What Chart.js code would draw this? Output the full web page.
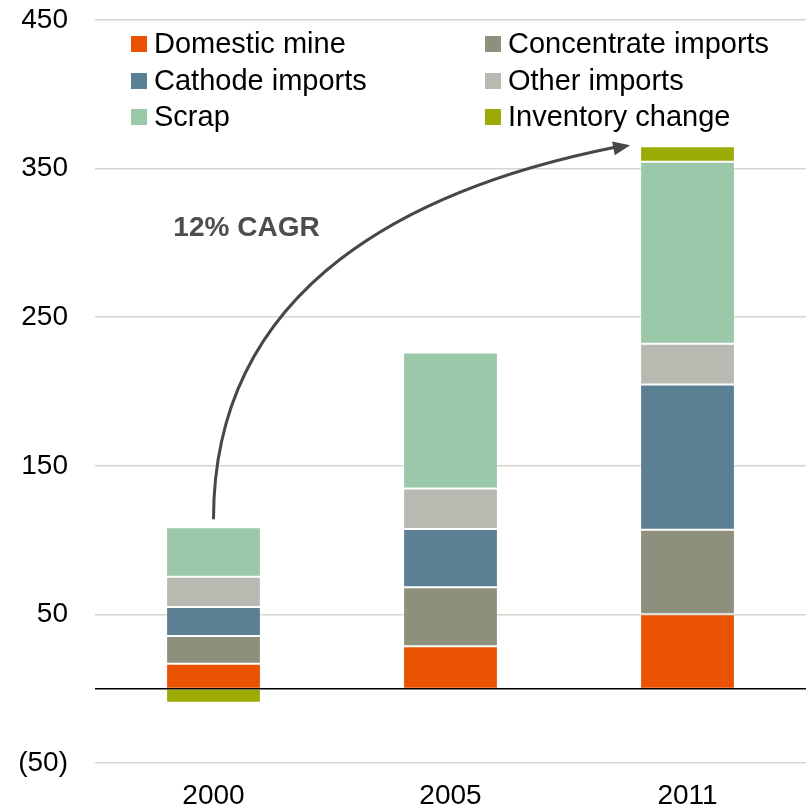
<!DOCTYPE html>
<html><head><meta charset="utf-8">
<script src="https://cdn.jsdelivr.net/npm/chart.js@4/dist/chart.umd.min.js"></script>
<style>html,body{margin:0;padding:0;background:#fff;overflow:hidden}#wrap{width:808px;height:811px;position:relative}</style>
</head><body><div id="wrap"><canvas id="c" width="808" height="811"></canvas></div>
<script>
// ---- data ----
const categories = ['2000', '2005', '2011'];
const domesticMine = [16.8, 28.5, 50.1];
const concentrateImports = [18.6, 39.8, 56.8];
const cathodeImports = [19.6, 39.1, 97.8];
const otherImports = [20.4, 27.3, 27.4];
const scrap = [33.3, 91.5, 122.5];
const inventoryChange = [-9.4, 0.8, 10.5];
const seriesNames = ['Domestic mine', 'Concentrate imports', 'Cathode imports', 'Other imports', 'Scrap', 'Inventory change'];
const seriesColors = ['#E85200', '#8E8F7D', '#5B7F93', '#BAB9B1', '#9AC8A9', '#9BAA05'];
const yMin = -50, yMax = 450, yStep = 100;
const annotationText = '12% CAGR';

const FONT = "'Liberation Sans', Arial, sans-serif";
const seriesValues = [domesticMine, concentrateImports, cathodeImports, otherImports, scrap, inventoryChange];

const datasets = seriesNames.map((name, i) => ({
  label: name,
  data: seriesValues[i],
  backgroundColor: seriesColors[i],
  borderColor: 'rgba(255,255,255,0.28)',
  borderWidth: 1,
  borderSkipped: false,
  barPercentage: 0.4,
  categoryPercentage: 1.0
}));

const overlayPlugin = {
  id: 'overlay',
  afterDatasetsDraw(chart) {
    const ctx = chart.ctx, y = chart.scales.y, area = chart.chartArea;
    const y0 = y.getPixelForValue(0);
    ctx.save();
    ctx.strokeStyle = '#000';
    ctx.lineWidth = 1.5;
    ctx.beginPath();
    ctx.moveTo(area.left, y0);
    ctx.lineTo(area.right, y0);
    ctx.stroke();
    ctx.restore();
  },
  afterDraw(chart) {
    const ctx = chart.ctx, xs = chart.scales.x, ys = chart.scales.y;
    ctx.save();
    // custom two-column legend
    const colX = [131, 485];
    const rowY = [44, 81, 117];
    ctx.font = '29px ' + FONT;
    ctx.textBaseline = 'middle';
    ctx.textAlign = 'left';
    seriesNames.forEach((name, i) => {
      const cx = colX[i % 2], cy = rowY[Math.floor(i / 2)];
      ctx.fillStyle = seriesColors[i];
      ctx.fillRect(cx, cy - 8, 16, 16);
      ctx.fillStyle = '#000';
      ctx.fillText(name, cx + 23, cy + 1);
    });

    // growth arrow from 2000 bar top to 2011 bar top
    const totals = categories.map((_, j) => seriesValues.reduce((s, arr) => s + Math.max(0, arr[j]), 0));
    const lastBar = chart.getDatasetMeta(seriesNames.length - 1).data[2];
    const sx = xs.getPixelForValue(0);
    const sy = ys.getPixelForValue(totals[0]) - 8;
    const tipX = lastBar.x - lastBar.width / 2 - 10;
    const tipY = ys.getPixelForValue(totals[2]) - 1;
    const ex = tipX - 15, ey = tipY + 2;
    const dx = ex - sx, dy = sy - ey;
    const c1x = sx, c1y = sy - 0.64 * dy;
    const c2x = sx + 0.514 * dx, c2y = ey + 0.105 * dy;
    ctx.strokeStyle = '#474747';
    ctx.fillStyle = '#474747';
    ctx.lineWidth = 3;
    ctx.beginPath();
    ctx.moveTo(sx, sy);
    ctx.bezierCurveTo(c1x, c1y, c2x, c2y, ex, ey);
    ctx.stroke();
    const ang = Math.atan2(tipY - c2y, tipX - c2x);
    const L = 17, W = 7;
    ctx.beginPath();
    ctx.moveTo(tipX, tipY);
    ctx.lineTo(tipX - L * Math.cos(ang) + W * Math.sin(ang), tipY - L * Math.sin(ang) - W * Math.cos(ang));
    ctx.lineTo(tipX - L * Math.cos(ang) - W * Math.sin(ang), tipY - L * Math.sin(ang) + W * Math.cos(ang));
    ctx.closePath();
    ctx.fill();

    // CAGR label
    ctx.font = 'bold 28px ' + FONT;
    ctx.fillStyle = '#4D4D4D';
    ctx.textAlign = 'center';
    ctx.fillText(annotationText, sx + 33, ys.getPixelForValue(310));
    ctx.restore();
  }
};

new Chart(document.getElementById('c'), {
  type: 'bar',
  data: { labels: categories, datasets },
  options: {
    responsive: false,
    animation: false,
    devicePixelRatio: 1,
    layout: { padding: { top: 20, right: 2, left: 0, bottom: 0 } },
    plugins: { legend: { display: false }, tooltip: { enabled: false } },
    scales: {
      x: {
        stacked: true,
        afterFit(s) { s.height = 48; },
        grid: { display: false, drawTicks: false },
        border: { display: false },
        ticks: { color: '#000', font: { family: FONT, size: 28 }, padding: 16 }
      },
      y: {
        stacked: true,
        min: yMin, max: yMax,
        afterFit(s) { s.width = 95; },
        grid: { color: '#D6D6CD', lineWidth: 1.5, drawTicks: true, tickLength: 27, tickColor: 'rgba(0,0,0,0)' },
        border: { display: false },
        ticks: {
          stepSize: yStep,
          color: '#000',
          font: { family: FONT, size: 28 },
          padding: 0,
          callback: v => v < 0 ? '(' + Math.abs(v) + ')' : String(v)
        }
      }
    }
  },
  plugins: [overlayPlugin]
});
</script></body></html>
